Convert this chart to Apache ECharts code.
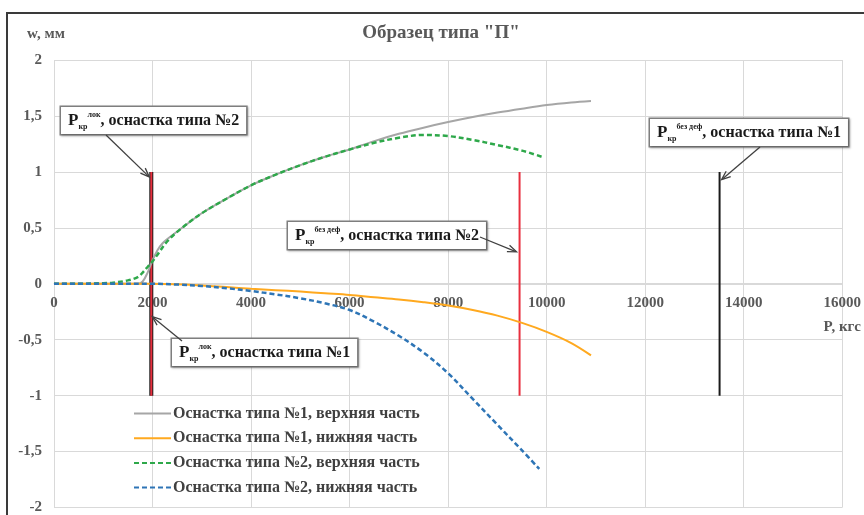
<!DOCTYPE html>
<html>
<head>
<meta charset="utf-8">
<script src="https://cdn.jsdelivr.net/npm/echarts@6/dist/echarts.min.js"></script>
<style>html,body{margin:0;padding:0;background:#fff}#c{width:864px;height:515px}</style>
</head>
<body>
<div id="c"></div>
<script>
// ---- data ----
const seriesNames = [
  'Оснастка типа №1, верхняя часть',
  'Оснастка типа №1, нижняя часть',
  'Оснастка типа №2, верхняя часть',
  'Оснастка типа №2, нижняя часть'
];
const upper1P = [0,500,1000,1500,1700,1800,1900,2000,2100,2200,2300,2600,3000,3500,4000,4500,5000,5500,6000,6500,7000,7500,8000,8500,9000,9500,10000,10500,10900];
const upper1W = [0,0,0,0,0,0.02,0.1,0.21,0.3,0.36,0.4,0.5,0.63,0.76,0.88,0.975,1.06,1.135,1.2,1.275,1.34,1.395,1.445,1.49,1.53,1.565,1.597,1.62,1.633];
const lower1P = [0,1000,2000,2500,3000,3500,4000,4500,5000,5500,6000,6500,7000,7500,8000,8500,9000,9500,10000,10500,10900];
const lower1W = [0,0,0,-0.005,-0.015,-0.03,-0.045,-0.057,-0.07,-0.085,-0.1,-0.12,-0.14,-0.165,-0.195,-0.235,-0.285,-0.35,-0.43,-0.53,-0.64];
const upper2P = [0,500,1000,1200,1500,1700,1800,1900,2000,2100,2300,2600,3000,3500,4000,4500,5000,5500,6000,6500,7000,7500,8000,8500,9000,9500,9900];
const upper2W = [0,0,0.005,0.01,0.03,0.06,0.1,0.15,0.2,0.26,0.38,0.5,0.63,0.76,0.88,0.975,1.06,1.135,1.2,1.26,1.305,1.33,1.32,1.285,1.24,1.19,1.135];
const lower2P = [0,1000,2000,2500,3000,3500,4000,4500,5000,5500,6000,6500,7000,7500,8000,8500,9000,9500,9850];
const lower2W = [0,0,0,-0.007,-0.02,-0.04,-0.065,-0.095,-0.13,-0.175,-0.235,-0.34,-0.465,-0.615,-0.8,-1.03,-1.26,-1.49,-1.655];

// critical loads (vertical markers)
const critLabels = ['лок №1', 'лок №2', 'без деф №2', 'без деф №1'];
const critP = [1975, 1975, 9450, 13510];
const critLow = [-1, -1, -1, -1];
const critHigh = [1, 1, 1, 1];

const xTicks = { min: 0, max: 16000, interval: 2000 };
const yTicks = { min: -2, max: 2, interval: 0.5 };

// ---- styles ----
const FONT = '"Liberation Serif","Times New Roman",serif';
const TXT = '#595959';
const seriesColors = ['#a6a6a6', '#ffa91f', '#2ea84a', '#2e75b6'];
const seriesDash = ['solid', 'solid', [5, 3], [5, 3]];
const critColors = ['#1a1a1a', '#e8303f', '#e8303f', '#1a1a1a'];
const critWidths = [4, 2, 2, 2];

function zip(a, b) { return a.map((v, i) => [v, b[i]]); }

const mainData = [zip(upper1P, upper1W), zip(lower1P, lower1W), zip(upper2P, upper2W), zip(lower2P, lower2W)];

const series = [];
critP.forEach((p, i) => {
  series.push({
    name: 'crit_' + critLabels[i], type: 'line', silent: true, symbol: 'none',
    data: [[p, critLow[i]], [p, critHigh[i]]],
    lineStyle: { color: critColors[i], width: critWidths[i] }, z: 3
  });
});
mainData.forEach((d, i) => {
  series.push({
    name: seriesNames[i], type: 'line', data: d, symbol: 'none', smooth: 0.35,
    lineStyle: { color: seriesColors[i], width: i < 2 ? 2 : 2.5, type: seriesDash[i] },
    itemStyle: { color: seriesColors[i] }, z: 4
  });
});

const chart = echarts.init(document.getElementById('c'), null, { renderer: 'canvas' });
chart.setOption({
  animation: false,
  backgroundColor: '#fff',
  grid: { left: 54, right: 21, top: 60, bottom: 7 },
  xAxis: {
    type: 'value', min: xTicks.min, max: xTicks.max, interval: xTicks.interval,
    position: 'bottom', offset: -224,
    axisLine: { onZero: false, lineStyle: { color: '#d9d9d9', width: 1 } },
    axisTick: { show: false },
    splitLine: { lineStyle: { color: '#d9d9d9', width: 1 } },
    axisLabel: { margin: 12, color: TXT, fontFamily: FONT, fontWeight: 'bold', fontSize: 15,
      formatter: v => String(v) }
  },
  yAxis: {
    type: 'value', min: yTicks.min, max: yTicks.max, interval: yTicks.interval,
    axisLine: { show: false }, axisTick: { show: false },
    splitLine: { lineStyle: { color: '#d9d9d9', width: 1 } },
    axisLabel: { margin: 12, color: TXT, fontFamily: FONT, fontWeight: 'bold', fontSize: 15,
      formatter: v => String(v).replace('.', ',') }
  },
  legend: {
    data: seriesNames, orient: 'vertical', left: 133, top: 405.5,
    itemWidth: 37, itemHeight: 14, itemGap: 8.7, padding: 0,
    itemStyle: { opacity: 0 },
    textStyle: { color: '#404040', fontFamily: FONT, fontWeight: 'bold', fontSize: 16, padding: [0, 0, 0, -3] }
  },
  series: series
});

// ---- annotations ----
function px(x, y) { return chart.convertToPixel({ gridIndex: 0 }, [x, y]); }
function arrow(x1, y1, x2, y2) {
  const ang = Math.atan2(y2 - y1, x2 - x1), L = 9, W = 3.5;
  const bx = x2 - L * Math.cos(ang), by = y2 - L * Math.sin(ang);
  const nx = -Math.sin(ang), ny = Math.cos(ang);
  return [
    { type: 'line', shape: { x1, y1, x2: x2 - 1.5 * Math.cos(ang), y2: y2 - 1.5 * Math.sin(ang) }, style: { stroke: '#404040', lineWidth: 1.3 }, z: 22 },
    { type: 'polyline', shape: { points: [[bx + nx * W, by + ny * W], [x2, y2], [bx - nx * W, by - ny * W]] },
      style: { stroke: '#404040', lineWidth: 1.3, fill: 'none' }, z: 22 }
  ];
}
const rich = {
  P: { fontSize: 17, fontWeight: 'bold', fontFamily: FONT, fill: '#1a1a1a', lineHeight: 20 },
  sub: { fontSize: 8, fontWeight: 'bold', fontFamily: FONT, fill: '#1a1a1a', verticalAlign: 'bottom', lineHeight: 20 },
  sup: { fontSize: 8, fontWeight: 'bold', fontFamily: FONT, fill: '#1a1a1a', verticalAlign: 'top', lineHeight: 20 },
  t: { fontSize: 16, fontWeight: 'bold', fontFamily: FONT, fill: '#1a1a1a', lineHeight: 20 }
};
function box(x, y, supTxt, rest) {
  return {
    type: 'text', x, y, z: 21,
    style: {
      text: '{P|P}{sub|кр}{sup|' + supTxt + '}{t|' + rest + '}',
      rich, align: 'left', verticalAlign: 'top',
      backgroundColor: '#fff', borderColor: '#808080', borderWidth: 1.5,
      padding: [4, 7, 3, 7],
      shadowColor: 'rgba(0,0,0,0.25)', shadowBlur: 2, shadowOffsetX: 1, shadowOffsetY: 1
    }
  };
}
const t1 = px(critP[1], 0.955), t2 = px(critP[3], 0.93), t3 = px(critP[2], 0.285), t4 = px(critP[0], -0.295);
const elements = [
  { type: 'rect', shape: { x: 7, y: 13, width: 880, height: 520 }, style: { fill: 'none', stroke: '#3a3a3a', lineWidth: 2 }, z: 30 },
  { type: 'text', x: 441, y: 33, style: { text: 'Образец типа "П"', align: 'center', verticalAlign: 'middle',
      fill: TXT, font: 'bold 19px ' + FONT } },
  { type: 'text', x: 27, y: 34, style: { text: 'w, мм', align: 'left', verticalAlign: 'middle',
      fill: TXT, font: 'bold 15px ' + FONT } },
  { type: 'text', x: 861, y: 327, style: { text: 'P, кгс', align: 'right', verticalAlign: 'middle',
      fill: TXT, font: 'bold 15px ' + FONT } },
  ...arrow(106, 135, t1[0] - 2, t1[1]),
  ...arrow(760, 147, t2[0] + 2, t2[1]),
  ...arrow(480, 237, t3[0] - 3, t3[1]),
  ...arrow(182, 341, t4[0] + 1, t4[1]),
  box(61, 107, 'лок', ', оснастка типа №2'),
  box(650, 119, 'без деф', ', оснастка типа №1'),
  box(288, 222, 'без деф', ', оснастка типа №2'),
  box(172, 339, 'лок', ', оснастка типа №1')
];
chart.setOption({ graphic: { elements } });
</script>
</body>
</html>
